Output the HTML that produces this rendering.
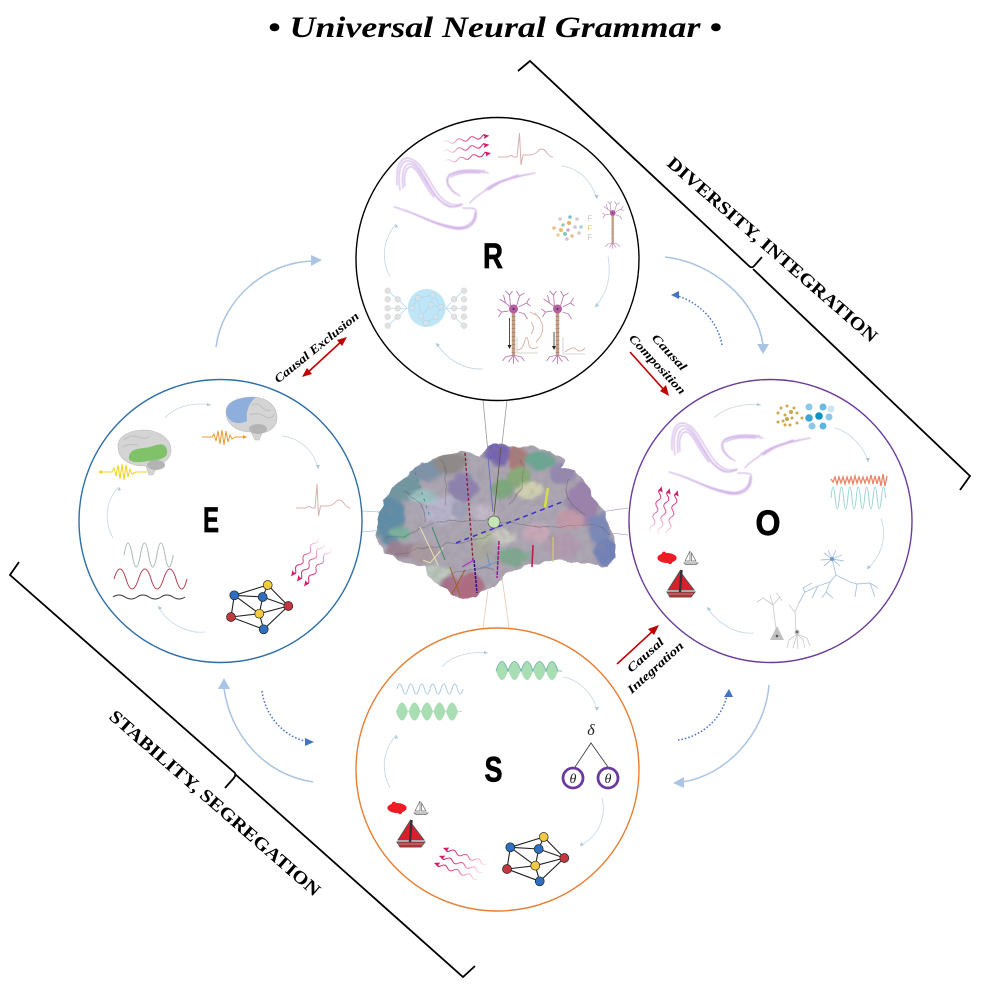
<!DOCTYPE html>
<html><head><meta charset="utf-8"><style>html,body{margin:0;padding:0;background:#fff}svg{display:block}</style></head>
<body>
<svg xmlns="http://www.w3.org/2000/svg" width="981" height="1000" viewBox="0 0 981 1000">
<defs>
<filter id="b2" x="-10%" y="-10%" width="120%" height="120%"><feGaussianBlur stdDeviation="1.600"/></filter>
<filter id="b05"><feGaussianBlur stdDeviation="0.6"/></filter>
<filter id="dis" x="-5%" y="-5%" width="110%" height="110%"><feTurbulence type="fractalNoise" baseFrequency=".07" numOctaves="2" seed="4" result="n"/><feDisplacementMap in="SourceGraphic" in2="n" scale="9" xChannelSelector="R" yChannelSelector="G"/></filter>
<filter id="mott" x="0" y="0" width="100%" height="100%"><feTurbulence type="fractalNoise" baseFrequency=".14" numOctaves="3" seed="9"/><feColorMatrix type="matrix" values="0 0 0 0 .3  0 0 0 0 .28  0 0 0 0 .32  1.800 0 0 0 -.75"/></filter>
<linearGradient id="pg" x1="0" x2="1" y1="0" y2="0"><stop offset="0" stop-color="#e04a8c" stop-opacity=".1"/><stop offset=".5" stop-color="#d8307c" stop-opacity=".8"/><stop offset="1" stop-color="#d6186a"/></linearGradient>
<g id="w"><path d="M0 0q3.250-3.500 6.500 0t6.500 0 6.500 0 6.500 0 6.500 0 6.500 0 5 0" fill="none" stroke="url(#pg)" stroke-width="1"/><path d="M47 0l-6-2.500 1 2.500-1 2.500z" fill="#d6186a"/></g>
<g id="ribbon" fill="none" stroke-linecap="round">
<g stroke="#b888d8" stroke-width="1.200" opacity=".6" filter="url(#b05)">
<path d="M400 190C397 168 402 160 409 161C420 162 427 185 437 197C447 208 455 208 462 205"/>
<path d="M403 188C401 170 405 163 411 164C419 166 426 186 438 199C447 208 452 208 458 206"/>
<path d="M397 185C396 166 400 158 408 158C422 160 429 183 439 195C448 206 456 206 462 204"/>
<path d="M405 186C403 173 407 166 412 167C419 170 424 186 434 197"/>
<path d="M394 207C415 212 432 225 455 229C470 231 478 222 476 210C475 208 470 208 463 208"/>
<path d="M404 210C420 215 435 224 455 227C468 229 475 221 475 212"/>
<path d="M412 213C428 220 445 227 462 228C470 228 475 222 476 214"/>
<path d="M425 219C438 224 450 228 462 229"/>
<path d="M488 173C470 170 455 171 449 176C445 182 450 190 460 196"/>
<path d="M485 171C470 169 456 170 449 175C444 181 448 188 456 194"/>
<path d="M480 173C468 172 457 173 451 177"/>
<path d="M535 173C510 178 495 182 483 192C477 196 472 200 470 203"/>
<path d="M530 174C510 177 497 181 486 189"/>
<path d="M525 175C508 179 497 183 488 190"/>
<path d="M518 175C505 179 497 184 490 189"/>
</g></g>
<g id="net" stroke="#222" stroke-width="1.100">
<path d="M267.700 585L234.300 595.300M267.700 585L262.700 597M267.700 585L288.300 606M234.300 595.300L262.700 597M234.300 595.300L231 617M234.300 595.300L259.300 613.700M262.700 597L288.300 606M262.700 597L259.300 613.700M259.300 613.700L288.300 606M259.300 613.700L231 617M259.300 613.700L263.700 629.300M231 617L263.700 629.300M288.300 606L263.700 629.300" fill="none"/>
<circle cx="267.700" cy="585" r="4.500" fill="#f2cc3e" stroke-width=".7"/><circle cx="234.300" cy="595.300" r="4.500" fill="#2f6fc0" stroke-width=".7"/><circle cx="262.700" cy="597" r="4.500" fill="#2f6fc0" stroke-width=".7"/><circle cx="288.300" cy="606" r="4.500" fill="#c2383e" stroke-width=".7"/><circle cx="259.300" cy="613.700" r="4.500" fill="#f2cc3e" stroke-width=".7"/><circle cx="231" cy="617" r="4.500" fill="#c2383e" stroke-width=".7"/><circle cx="263.700" cy="629.300" r="4.500" fill="#2f6fc0" stroke-width=".7"/>
</g>
<g id="boat">
<g fill="#ee1c25"><ellipse cx="667" cy="558" rx="9.500" ry="5"/><circle cx="660" cy="558" r="2.600"/><circle cx="674" cy="558" r="2.600"/><circle cx="664" cy="553.800" r="2.200"/><circle cx="670" cy="562" r="2.200"/></g>
<g fill="#fff" stroke="#666" stroke-width=".7"><path d="M690 551L685 561H690zM691.500 553V561H696z"/><path d="M684 563H698L696 564.500H686z"/></g>
<g stroke="#555" stroke-width="1"><path d="M680 571L668 590H680zM681 573V590H694z" fill="#d9202a"/><path d="M667 592H695L691 597H670z" fill="#d9202a"/></g>
<path d="M681.500 570L680 592" stroke="#333" stroke-width="2.400"/><path d="M668 594H693" stroke="#999" stroke-width="1"/>
</g>
<g id="neu" fill="none" stroke="#b87ab0" stroke-width=".9">
<path d="M0 0L-8-6-14-10M-8-6L-10-14M-3-3L-4-14-8-18M-4-14L-1-18M3-3L6-13 3-18M6-13L11-16M5-2L13-6 17-3M13-6L16-11M-5 2L-12 3-15 8M-12 3L-16 0M5 3L11 5 14 10"/>
<path d="M0 46L-8 48-11 52M0 46L-5 53M0 46V55M0 46L5 53M0 46L8 48 11 52"/>
<path d="M0 3V46" stroke="#c4a088" stroke-width="3.400"/><path d="M0 3V46" stroke="#a98870" stroke-width="3.400" stroke-dasharray="1 3"/>
<circle r="4.500" fill="#b45fa2" stroke="none"/><circle r="1" fill="#55224f" stroke="none"/>
</g>
<path id="lobe" d="M-6 0Q0-18 6 0Q0 18-6 0Z" fill="#a9deb4"/>
<clipPath id="bc"><path d="M377 537L378 520 383 500 400 480 420 465 440 455 467 451 480 455 487 447 500 443 510 447 530 445 550 450 563 460 560 467 577 470 590 490 603 513 615 537 615 557 608 568 593 565 577 562 553 560 533 563 503 575 497 587 487 590 477 598 450 595 437 583 427 575 425 567 403 563 387 553 378 543Z"/></clipPath>
</defs>
<rect width="981" height="1000" fill="#fff"/>

<text x="495" y="37" text-anchor="middle" font-family="'Liberation Serif',serif" font-weight="bold" font-style="italic" font-size="30" textLength="454" lengthAdjust="spacingAndGlyphs">• Universal Neural Grammar •</text>

<g fill="none" stroke="#000" stroke-width="1.800">
<path d="M518 71L530 61L749 266Q752 269 755 265L762 257M753 269L970 476L960 490"/>
<path d="M19 562L10 575L235 773Q236 776 233 779L225 788M235 774L463 977L475 966"/>
</g>
<text x="768.500" y="254" transform="rotate(41 768.500 254)" text-anchor="middle" font-family="'Liberation Serif',serif" font-weight="bold" font-size="18" textLength="272" lengthAdjust="spacingAndGlyphs">DIVERSITY, INTEGRATION</text>
<text x="211" y="807.500" transform="rotate(41 211 807.500)" text-anchor="middle" font-family="'Liberation Serif',serif" font-weight="bold" font-size="18" textLength="273" lengthAdjust="spacingAndGlyphs">STABILITY, SEGREGATION</text>

<g font-family="'Liberation Serif',serif" font-weight="bold" font-style="italic" font-size="12" text-anchor="middle">
<text x="319" y="350.500" transform="rotate(-39 319 350.500)" textLength="105" lengthAdjust="spacingAndGlyphs">Causal Exclusion</text>
<text x="666.500" y="355" transform="rotate(47 666.500 355)" textLength="45" lengthAdjust="spacingAndGlyphs">Causal</text>
<text x="654.500" y="367" transform="rotate(47 654.500 367)" textLength="77" lengthAdjust="spacingAndGlyphs">Composition</text>
<text x="648" y="658" transform="rotate(-42 648 658)" textLength="45" lengthAdjust="spacingAndGlyphs">Causal</text>
<text x="658" y="670.500" transform="rotate(-42 658 670.500)" textLength="71" lengthAdjust="spacingAndGlyphs">Integration</text>
</g>

<g stroke="#c00000" stroke-width="1.600" fill="#c00000">
<path d="M306 374L343 340" fill="none"/><path d="M302 377L312 374 307 368z" stroke="none"/><path d="M347 337L337 340 342 346z" stroke="none"/>
<path d="M630 352L665 391" fill="none"/><path d="M669 396L666 385 660 391z" stroke="none"/>
<path d="M617 664L654 630" fill="none"/><path d="M659 625L648 629 654 635z" stroke="none"/>
</g>

<!-- connector lines -->
<g fill="none" stroke-width=".8">
<path d="M483 400L494 515M507 400L494 515" stroke="#999"/>
<path d="M362 511L380 512M362 532L383 530" stroke="#a8c8d8"/>
<path d="M628 508L600 512M628 535L603 532" stroke="#b8a8c8"/>
<path d="M483 628L488 590M509 628L502 577" stroke="#eec4a8"/>
</g>

<!-- brain -->
<g filter="url(#dis)"><g clip-path="url(#bc)">
<rect x="370" y="435" width="250" height="170" fill="#aca5b2"/>
<g filter="url(#b2)">
<ellipse cx="390" cy="520" rx="14" ry="26" fill="#5f8ca6"/><ellipse cx="403" cy="487" rx="18" ry="14" fill="#6f97a0"/><ellipse cx="427" cy="470" rx="18" ry="11" fill="#7d93a8"/><ellipse cx="450" cy="463" rx="17" ry="11" fill="#8f8a88"/><ellipse cx="463" cy="487" rx="14" ry="14" fill="#8d82ae"/><ellipse cx="442" cy="510" rx="20" ry="14" fill="#b8b4cc"/><ellipse cx="423" cy="497" rx="14" ry="7" fill="#9cc4c4"/><ellipse cx="400" cy="533" rx="10" ry="6" fill="#78b49c"/><ellipse cx="403" cy="550" rx="16" ry="8" fill="#9a8090"/><ellipse cx="423" cy="553" rx="14" ry="10" fill="#a99aa0"/><ellipse cx="497" cy="453" rx="13" ry="11" fill="#7463b0"/><ellipse cx="517" cy="458" rx="10" ry="13" fill="#a87a78"/><ellipse cx="540" cy="460" rx="15" ry="10" fill="#6aa692"/><ellipse cx="520" cy="477" rx="12" ry="10" fill="#88ac78"/><ellipse cx="503" cy="490" rx="12" ry="10" fill="#7ca87c"/><ellipse cx="530" cy="490" rx="14" ry="9" fill="#cfcfb0"/><ellipse cx="563" cy="473" rx="14" ry="11" fill="#9488b0"/><ellipse cx="583" cy="503" rx="16" ry="22" fill="#9a82ac"/><ellipse cx="600" cy="530" rx="11" ry="16" fill="#7a88b8"/><ellipse cx="607" cy="553" rx="12" ry="14" fill="#6f80b8"/><ellipse cx="570" cy="520" rx="14" ry="10" fill="#c49aa8"/><ellipse cx="563" cy="547" rx="18" ry="12" fill="#b29ab0"/><ellipse cx="537" cy="533" rx="14" ry="10" fill="#c8a8b8"/><ellipse cx="513" cy="557" rx="16" ry="9" fill="#7ea88e"/><ellipse cx="483" cy="550" rx="12" ry="12" fill="#a8a8a0"/><ellipse cx="470" cy="587" rx="14" ry="14" fill="#b06a80"/><ellipse cx="450" cy="587" rx="9" ry="11" fill="#a87088"/><ellipse cx="437" cy="573" rx="13" ry="8" fill="#bcc8bc"/><ellipse cx="483" cy="537" rx="10" ry="7" fill="#b0b8a0"/><ellipse cx="503" cy="537" rx="12" ry="8" fill="#c8c8c0"/><ellipse cx="483" cy="513" rx="12" ry="10" fill="#c2b8c8"/><ellipse cx="460" cy="510" rx="9" ry="9" fill="#a0a0b8"/>
</g>
<rect x="370" y="435" width="250" height="170" filter="url(#mott)" opacity=".4"/>
<g fill="none" stroke="#5f5a60" stroke-width=".8" opacity=".5">
<path d="M385 540Q410 535 420 528T470 522 520 518"/><path d="M395 555Q420 548 445 545T490 535"/><path d="M510 522Q540 530 570 525T610 535"/>
<path d="M440 460Q450 480 445 505"/><path d="M520 460Q530 480 510 505"/><path d="M570 480Q560 500 585 515"/>
<path d="M450 575Q470 565 495 570"/><path d="M405 490Q420 500 425 520"/>
</g>
</g></g>
<g fill="none">
<path d="M465 453L473 560" stroke="#8a1c30" stroke-width="1.300" stroke-dasharray="3 2"/>
<path d="M474 560L477 593" stroke="#2a1488" stroke-width="1.500" stroke-dasharray="3 1"/>
<path d="M456 543L562 502" stroke="#3a2fc8" stroke-width="1.500" stroke-dasharray="5 4"/>
<path d="M499 541L497 578" stroke="#a01890" stroke-width="1.500" stroke-dasharray="4 1"/>
<path d="M533 545L532 567" stroke="#b01c48" stroke-width="1.500"/>
<path d="M545 507L548 488" stroke="#d8e040" stroke-width="2.500"/>
<path d="M553 537L553 562" stroke="#d8d860" stroke-width="1"/>
<path d="M420 527L438 565M423 560L430 563 443 548" stroke="#e5e0b0" stroke-width="1"/>
<path d="M450 567L460 596M452 594L465 570" stroke="#a0602a" stroke-width="1"/>
<path d="M462 567L474 560" stroke="#b030c8" stroke-width="1.300"/>
<path d="M432 527L445 560" stroke="#3a8a6a" stroke-width="1"/>
<path d="M415 472L430 517" stroke="#3a9a94" stroke-width="1" stroke-dasharray="3 4"/>
<path d="M501 447L494 515" stroke="#553" stroke-width=".8"/>
<path d="M488 457L493 512" stroke="#5a68b8" stroke-width=".8"/>
<path d="M487 553L490 567M480 568L497 562" stroke="#5a90c8" stroke-width=".8"/>
</g>
<circle cx="494" cy="522" r="6" fill="#c5e5b5" stroke="#555" stroke-width=".7"/>

<!-- big circles -->
<g fill="#fff" stroke-width="1.400">
<circle cx="497.500" cy="259" r="141.500" stroke="#000"/>
<circle cx="220.500" cy="521" r="141.500" stroke="#2e6ea6"/>
<circle cx="770.500" cy="521" r="141.500" stroke="#6a3d9a"/>
<circle cx="497.500" cy="769.500" r="141.500" stroke="#e67e33"/>
</g>
<g font-family="'Liberation Sans',sans-serif" font-weight="bold" font-size="35" text-anchor="middle" stroke="#000" stroke-width=".7">
<text x="493" y="268" textLength="20" lengthAdjust="spacingAndGlyphs">R</text><text x="211" y="532" textLength="16" lengthAdjust="spacingAndGlyphs">E</text><text x="768" y="535" textLength="25" lengthAdjust="spacingAndGlyphs">O</text><text x="493.500" y="781.500" textLength="18" lengthAdjust="spacingAndGlyphs">S</text>
</g>

<!-- big arcs -->
<g fill="none" stroke="#a9c4e0" stroke-width="1.500">
<path d="M216 347C222 300 265 262 313 261"/>
<path d="M665 257C712 262 757 300 763 345"/>
<path d="M769 685C765 735 725 776 682 782"/>
<path d="M313 782C265 775 230 735 224 688"/>
</g>
<g fill="#a9c4e4">
<path d="M322 260L311 255V266z"/><path d="M763 354L757 344H769z"/><path d="M673 783L684 777V788z"/><path d="M224 678L218 689H230z"/>
</g>
<g fill="none" stroke="#4472c4" stroke-width="1.500" stroke-dasharray="1.500 2">
<path d="M722 345C718 322 700 303 678 296"/>
<path d="M678 740C700 737 722 720 727 695"/>
<path d="M262 691C265 715 283 736 305 741"/>
</g>
<g fill="#4472c4"><path d="M671 295L679 291V299z"/><path d="M729 689L724 697H733z"/><path d="M314 742L305 738V746z"/></g>

<!-- thin cycle arrows -->
<g fill="none" stroke="#c4d6e4" stroke-width=".8">
<path d="M561 166C580 168 592 182 597 199"/><path d="M608 256C612 278 606 295 595 307"/><path d="M483 369C462 370 446 358 436 343"/><path d="M390 277C380 258 384 238 396 224"/>
<path d="M714 418C725 407 745 403 761 405"/><path d="M835 428C850 432 865 448 868 462"/><path d="M881 518C888 538 880 558 867 569"/><path d="M754 633C735 635 716 622 707 607"/>
<path d="M165 418C175 406 195 402 211 405"/><path d="M282 436C300 438 315 452 318 469"/><path d="M205 632C186 634 166 622 158 606"/><path d="M113 538C103 520 106 500 119 487"/>
<path d="M442 667C452 655 472 651 488 653"/><path d="M563 677C580 680 594 695 597 711"/><path d="M602 798C607 818 598 836 580 846"/><path d="M390 788C380 768 384 750 396 735"/>
</g>
<g fill="#a8c4d8">
<path d="M597 199l-2.500-4h4z"/><path d="M595 307l1.500-4 2.500 3z"/><path d="M436 343l4 2-3 2z"/><path d="M396 224l-1 4 3-1z"/>
<path d="M761 405l-4-2v3z"/><path d="M868 462l-2-4h4z"/><path d="M867 569l1-4 3 3z"/><path d="M707 607l4 2-3 2z"/>
<path d="M211 405l-4-2v3z"/><path d="M318 469l-2-4h4z"/><path d="M158 606l4 2-3 2z"/><path d="M119 487l-1 4 3-1z"/>
<path d="M488 653l-4-2v3z"/><path d="M597 711l-2-4h4z"/><path d="M580 846l1-4 3 3z"/><path d="M396 735l-1 4 3-1z"/>
</g>

<!-- pink waves -->
<use href="#w" transform="translate(443 143) rotate(-9)"/><use href="#w" transform="translate(443 152) rotate(-9)"/><use href="#w" transform="translate(445 162) rotate(-11)"/>
<use href="#w" transform="translate(318 538) rotate(125)"/><use href="#w" transform="translate(324 543) rotate(125)"/><use href="#w" transform="translate(331 548) rotate(125)"/>
<use href="#w" transform="translate(651 532) rotate(-77)"/><use href="#w" transform="translate(659 534) rotate(-77)"/><use href="#w" transform="translate(667 536) rotate(-77)"/>
<use href="#w" transform="translate(487 864) rotate(200)"/><use href="#w" transform="translate(483 872) rotate(200)"/><use href="#w" transform="translate(478 879) rotate(200)"/>

<!-- ribbons -->
<use href="#ribbon"/><use href="#ribbon" transform="translate(275 265)"/>

<!-- ECG -->
<g fill="none" stroke="#d8b0b0" stroke-width="1">
<path d="M498 157H508Q511 154 514 157H517L519.500 133 521 165 523 155H531Q536 154 539 150 543 147 547 153 550 157 553 157"/>
<path d="M296 508H306Q309 505 312 508H315L317 484 318.500 516 320.500 506H328.500Q333.500 505 336.500 501 340.500 498 344.500 504 347.500 508 350.500 508"/>
</g>

<!-- R: dots, small neuron, Fs -->
<g>
<circle cx="560" cy="219" r="1.800" fill="#d8c8c8"/><circle cx="570" cy="217" r="1.800" fill="#7cc0c0"/><circle cx="577" cy="219" r="1.800" fill="#d8c8c8"/><circle cx="563" cy="225" r="1.800" fill="#9cc8b8"/><circle cx="569" cy="223" r="2" fill="#e8b060"/><circle cx="575" cy="227" r="1.800" fill="#c8c8d8"/><circle cx="581" cy="227" r="1.800" fill="#a8d0e0"/><circle cx="554" cy="228" r="1.800" fill="#e8c090"/><circle cx="561" cy="230" r="2" fill="#e8c060"/><circle cx="568" cy="230" r="1.800" fill="#d8a8c8"/><circle cx="558" cy="235" r="1.800" fill="#e8d0a0"/><circle cx="565" cy="234" r="2" fill="#80c8b8"/><circle cx="572" cy="236" r="1.800" fill="#e0c090"/><circle cx="579" cy="233" r="1.800" fill="#d8c8c8"/><circle cx="567" cy="239" r="1.800" fill="#e0b8d0"/>
<g font-family="'Liberation Sans',sans-serif" font-size="8" text-anchor="middle"><text x="590" y="221" fill="#c8c8c8">F</text><text x="590" y="231" fill="#eac88c">F</text><text x="590" y="240" fill="#c8c8c8">F</text></g>
</g>
<use href="#neu" transform="translate(612.700 213) scale(.65)"/>
<use href="#neu" transform="translate(513.500 309)"/>
<use href="#neu" transform="translate(557.500 309)"/>
<g fill="none" stroke="#222" stroke-width=".8"><path d="M509.500 318V346M554 332V347"/></g>
<path d="M509.500 349l-2-4h4zM554 350l-2-4h4z" fill="#222"/>
<g fill="none" stroke="#c8c8c0" stroke-width=".8"><path d="M517 337V353H538M563 337V354H585"/></g>
<g fill="none" stroke="#dcaea0" stroke-width=".9"><path d="M517 350Q523 350 525 340 527 333 529 345 531 351 538 347"/><path d="M565 352Q572 347 575 348 579 354 585 348"/><path d="M530 312L536 315M531 322Q536 328 531 334M535 313Q550 328 536 342"/></g>

<!-- R: neural net -->
<circle cx="426.700" cy="308" r="19" fill="#bfe6f7"/>
<g fill="none" stroke="#a8d8ee" stroke-width=".7">
<path d="M397.700 299.300L407 308 397.700 316.700M387.700 290.700L397.700 299.300M387.700 325.700L397.700 316.700M387.700 308.300H407M454 299.300L446 308 454 316.700M464 290.700L454 299.300M464 325.700L454 316.700M464 308.300H446"/>
<path d="M412 308L418 298 433 295 441 307 436 317 426 323 421 316 418 298M433 295L431 305 421 316M431 305L441 307"/>
</g>
<g fill="#e2e2e2" stroke="#c8c8c8" stroke-width=".5">
<circle cx="387.700" cy="290.700" r="2.800"/><circle cx="387.700" cy="299.300" r="2.800"/><circle cx="387.700" cy="308.300" r="2.800"/><circle cx="387.700" cy="316.700" r="2.800"/><circle cx="387.700" cy="325.700" r="2.800"/>
<circle cx="397.700" cy="299.300" r="2.800"/><circle cx="397.700" cy="308.300" r="2.800"/><circle cx="397.700" cy="316.700" r="2.800"/>
<circle cx="464" cy="290.700" r="2.800"/><circle cx="464" cy="299.300" r="2.800"/><circle cx="464" cy="308.300" r="2.800"/><circle cx="464" cy="316.700" r="2.800"/><circle cx="464" cy="325.700" r="2.800"/>
<circle cx="454" cy="299.300" r="2.800"/><circle cx="454" cy="308.300" r="2.800"/><circle cx="454" cy="316.700" r="2.800"/>
</g>
<g fill="#cfe4ee" stroke="#b8ccd8" stroke-width=".5">
<circle cx="412" cy="308" r="2.800"/><circle cx="418" cy="298" r="2.800"/><circle cx="433" cy="295" r="2.800"/><circle cx="431" cy="305" r="2.800"/><circle cx="441" cy="307" r="2.800"/><circle cx="421" cy="316" r="2.800"/><circle cx="436" cy="317" r="2.800"/><circle cx="426" cy="323" r="2.800"/>
</g>

<!-- E brains -->
<g>
<path d="M226 412C226 402 238 397 252 397C268 397 277 407 277 418C277 428 268 432 262 433L259 440 255 440 251 432C238 432 226 425 226 412Z" fill="#d4d4d4" stroke="#bcbcc4" stroke-width=".6"/>
<path d="M226 412C226 402 238 397 256 397C248 404 246 412 247 421 240 425 228 424 226 412Z" fill="#8eaedc"/>
<path d="M252 405q6-3 10 2t8 3M250 415q8-3 14 1t10-1" fill="none" stroke="#bdbdbd" stroke-width="1"/>
<ellipse cx="258" cy="429" rx="9" ry="5" fill="#b4b4b4"/>
<path d="M118 446C118 436 130 430 144 430C160 430 171 440 171 450C171 458 165 463 158 464L153 475 149 475 146 466C130 466 118 460 118 446Z" fill="#d4d4d4" stroke="#bcbcc4" stroke-width=".6"/>
<path d="M124 440q7-6 14-3t12-1M122 447q8-4 16-2" fill="none" stroke="#bdbdbd" stroke-width="1"/>
<ellipse cx="156" cy="465" rx="9" ry="5" fill="#b4b4b4"/>
<path d="M129 456C131 448 140 449 150 447 158 444 165 442 167 450 169 459 158 460 148 461 138 463 127 463 129 456Z" fill="#7fc26a"/>
</g>
<path d="M202 437H212L214 434 216 441 218 431 220 444 222 430 224 445 226 431 228 442 230 435 232 439 235 437H245" fill="none" stroke="#ef9a2e" stroke-width="1"/>
<path d="M247 437l-4-2v4z" fill="#ef9a2e"/>
<path d="M100 472H112L114 468 116 476 118 465 120 479 122 464 124 480 126 465 128 477 130 469 132 474 136 472H147" fill="none" stroke="#f4d21c" stroke-width="1"/>
<path d="M98 472l4-2v4z" fill="#f4d21c"/>

<!-- E waves -->
<g fill="none" stroke-width="1">
<path d="M124 555q4.100-24 8.200 0t8.200 0 8.200 0 8.200 0 8.200 0 8.200 0" stroke="#aab8b8"/>
<path d="M114 579q6-20 12 0t12.500 0 12.500 0 12.500 0 12.500 0 11 0" stroke="#b04050"/>
<path d="M113 597q6-4 12 0t12 0 12 0 12 0 12 0 12 0" stroke="#333"/>
</g>
<use href="#net"/>

<!-- O: dots -->
<g fill="#cfa54e">
<circle cx="781" cy="408" r="1.500"/><circle cx="787" cy="406" r="1.500"/><circle cx="794" cy="408" r="1.500"/><circle cx="778" cy="413" r="1.500"/><circle cx="785" cy="415" r="1.500"/><circle cx="791" cy="412" r="2"/><circle cx="797" cy="413" r="1.500"/><circle cx="802" cy="418" r="1.500"/><circle cx="783" cy="421" r="1.500"/><circle cx="787" cy="419" r="2"/><circle cx="792" cy="418" r="1.500"/><circle cx="778" cy="422" r="1.500"/><circle cx="785" cy="425" r="1.500"/><circle cx="790" cy="425" r="1.500"/><circle cx="797" cy="423" r="1.500"/>
</g>
<circle cx="809" cy="407" r="3.500" fill="#8cc8e8"/><circle cx="823" cy="407" r="3.500" fill="#6cb8e0"/><circle cx="831" cy="409" r="3.500" fill="#cce4f4"/><circle cx="809" cy="418" r="3.800" fill="#3da6d8"/><circle cx="819" cy="416" r="3.800" fill="#0f8fc8"/><circle cx="829" cy="417" r="3.500" fill="#8cc8e8"/><circle cx="812" cy="426" r="3.500" fill="#8cc8e8"/><circle cx="823" cy="426" r="3.500" fill="#5cb4e0"/>

<!-- O: waves -->
<path d="M831 479l2 3 2-5 2 7 2-7 2 6 2-6 2 7 2-7 2 6 2-6 2 7 2-8 2 7 2-6 2 6 2-6 2 6 2-6 2 6 2-8 2 9 2-8 2 8 2-8 2 10 2-12 2 12 2-10" fill="none" stroke="#e8856a" stroke-width="1.300"/>
<path d="M831 498q2.100-22 4.200 0t4.200 0 4.200 0 4.200 0 4.200 0 4.200 0 4.200 0 4.200 0 4.200 0 4.200 0 4.200 0 4.200 0 4.200 0" fill="none" stroke="#9ad4d0" stroke-width="1"/>

<!-- O: blue neuron -->
<g fill="none" stroke="#aac2de" stroke-width=".9">
<path d="M832 559L824 553M832 559L821 560M832 559L824 566M832 559L828 550M832 559L836 550M832 559L842 555M832 559L844 561M832 559L840 566"/>
<path d="M832 559L836 575 830 582 818 586 805 592 799 603M818 586L812 598M805 592L803 588 812 583M830 582L826 592 833 598M826 592L822 598M836 575L850 582 857 584 855 597M857 584L870 583 875 597M870 583L878 588"/>
</g>
<circle cx="832" cy="559" r="2" fill="#6a9ecc"/>

<!-- O: grey neurons -->
<g fill="none" stroke="#c8c8c8" stroke-width=".8">
<path d="M777 637L773 605 763 598 757 602M773 605L770 595M773 605L780 597 782 601M780 597L776 593"/>
<path d="M796 632L795 612 789 605M795 612L799 603 798 604"/>
<path d="M797 634L789 640 787 648M797 634L793 648M797 634L798 649M797 634L803 640 805 648M797 634L807 638 810 646"/>
</g>
<path d="M777 626L770 640H784z" fill="#c0c0c0"/><circle cx="777" cy="636" r="1.300" fill="#555"/><circle cx="797" cy="632" r="2.500" fill="#bbb"/><circle cx="797" cy="632" r="1" fill="#444"/>

<!-- boats -->
<use href="#boat"/><use href="#boat" transform="translate(-270 250)"/>

<!-- S waves -->
<path d="M397 689q2.750-10 5.500 0t5.500 0 5.500 0 5.500 0 5.500 0 5.500 0 5.500 0 5.500 0 5.500 0 5.500 0 5.500 0 5.500 0" fill="none" stroke="#aacbdc" stroke-width="1"/>
<use href="#lobe" transform="translate(402 711.500)"/><use href="#lobe" transform="translate(414.500 711.500)"/><use href="#lobe" transform="translate(427 711.500)"/><use href="#lobe" transform="translate(439.500 711.500)"/><use href="#lobe" transform="translate(452 711.500)"/>
<path d="M396 711.500H462" stroke="#a9deb4" stroke-width=".8"/>
<use href="#lobe" transform="translate(502 671)"/><use href="#lobe" transform="translate(514.500 671)"/><use href="#lobe" transform="translate(527 671)"/><use href="#lobe" transform="translate(539.500 671)"/><use href="#lobe" transform="translate(552 671)"/>
<path d="M496 671Q502 652 508 671Q514.500 652 521 671Q527 652 533 671Q539.500 652 546 671Q552 652 558 671H562" fill="none" stroke="#5fa8a0" stroke-width=".8"/>

<!-- S delta tree -->
<g fill="none" stroke="#333" stroke-width=".8"><path d="M575 767L591 743 608 767"/></g>
<circle cx="573" cy="778" r="10" fill="#fff" stroke="#6a3a9e" stroke-width="2.800"/><circle cx="608" cy="778" r="10" fill="#fff" stroke="#6a3a9e" stroke-width="2.800"/>
<g font-family="'Liberation Serif',serif" font-style="italic" text-anchor="middle" fill="#222">
<text x="591" y="735" font-size="16">δ</text><text x="573" y="783" font-size="14">θ</text><text x="608" y="783" font-size="14">θ</text>
</g>
<use href="#net" transform="translate(276 252)"/>
</svg>
</body></html>
